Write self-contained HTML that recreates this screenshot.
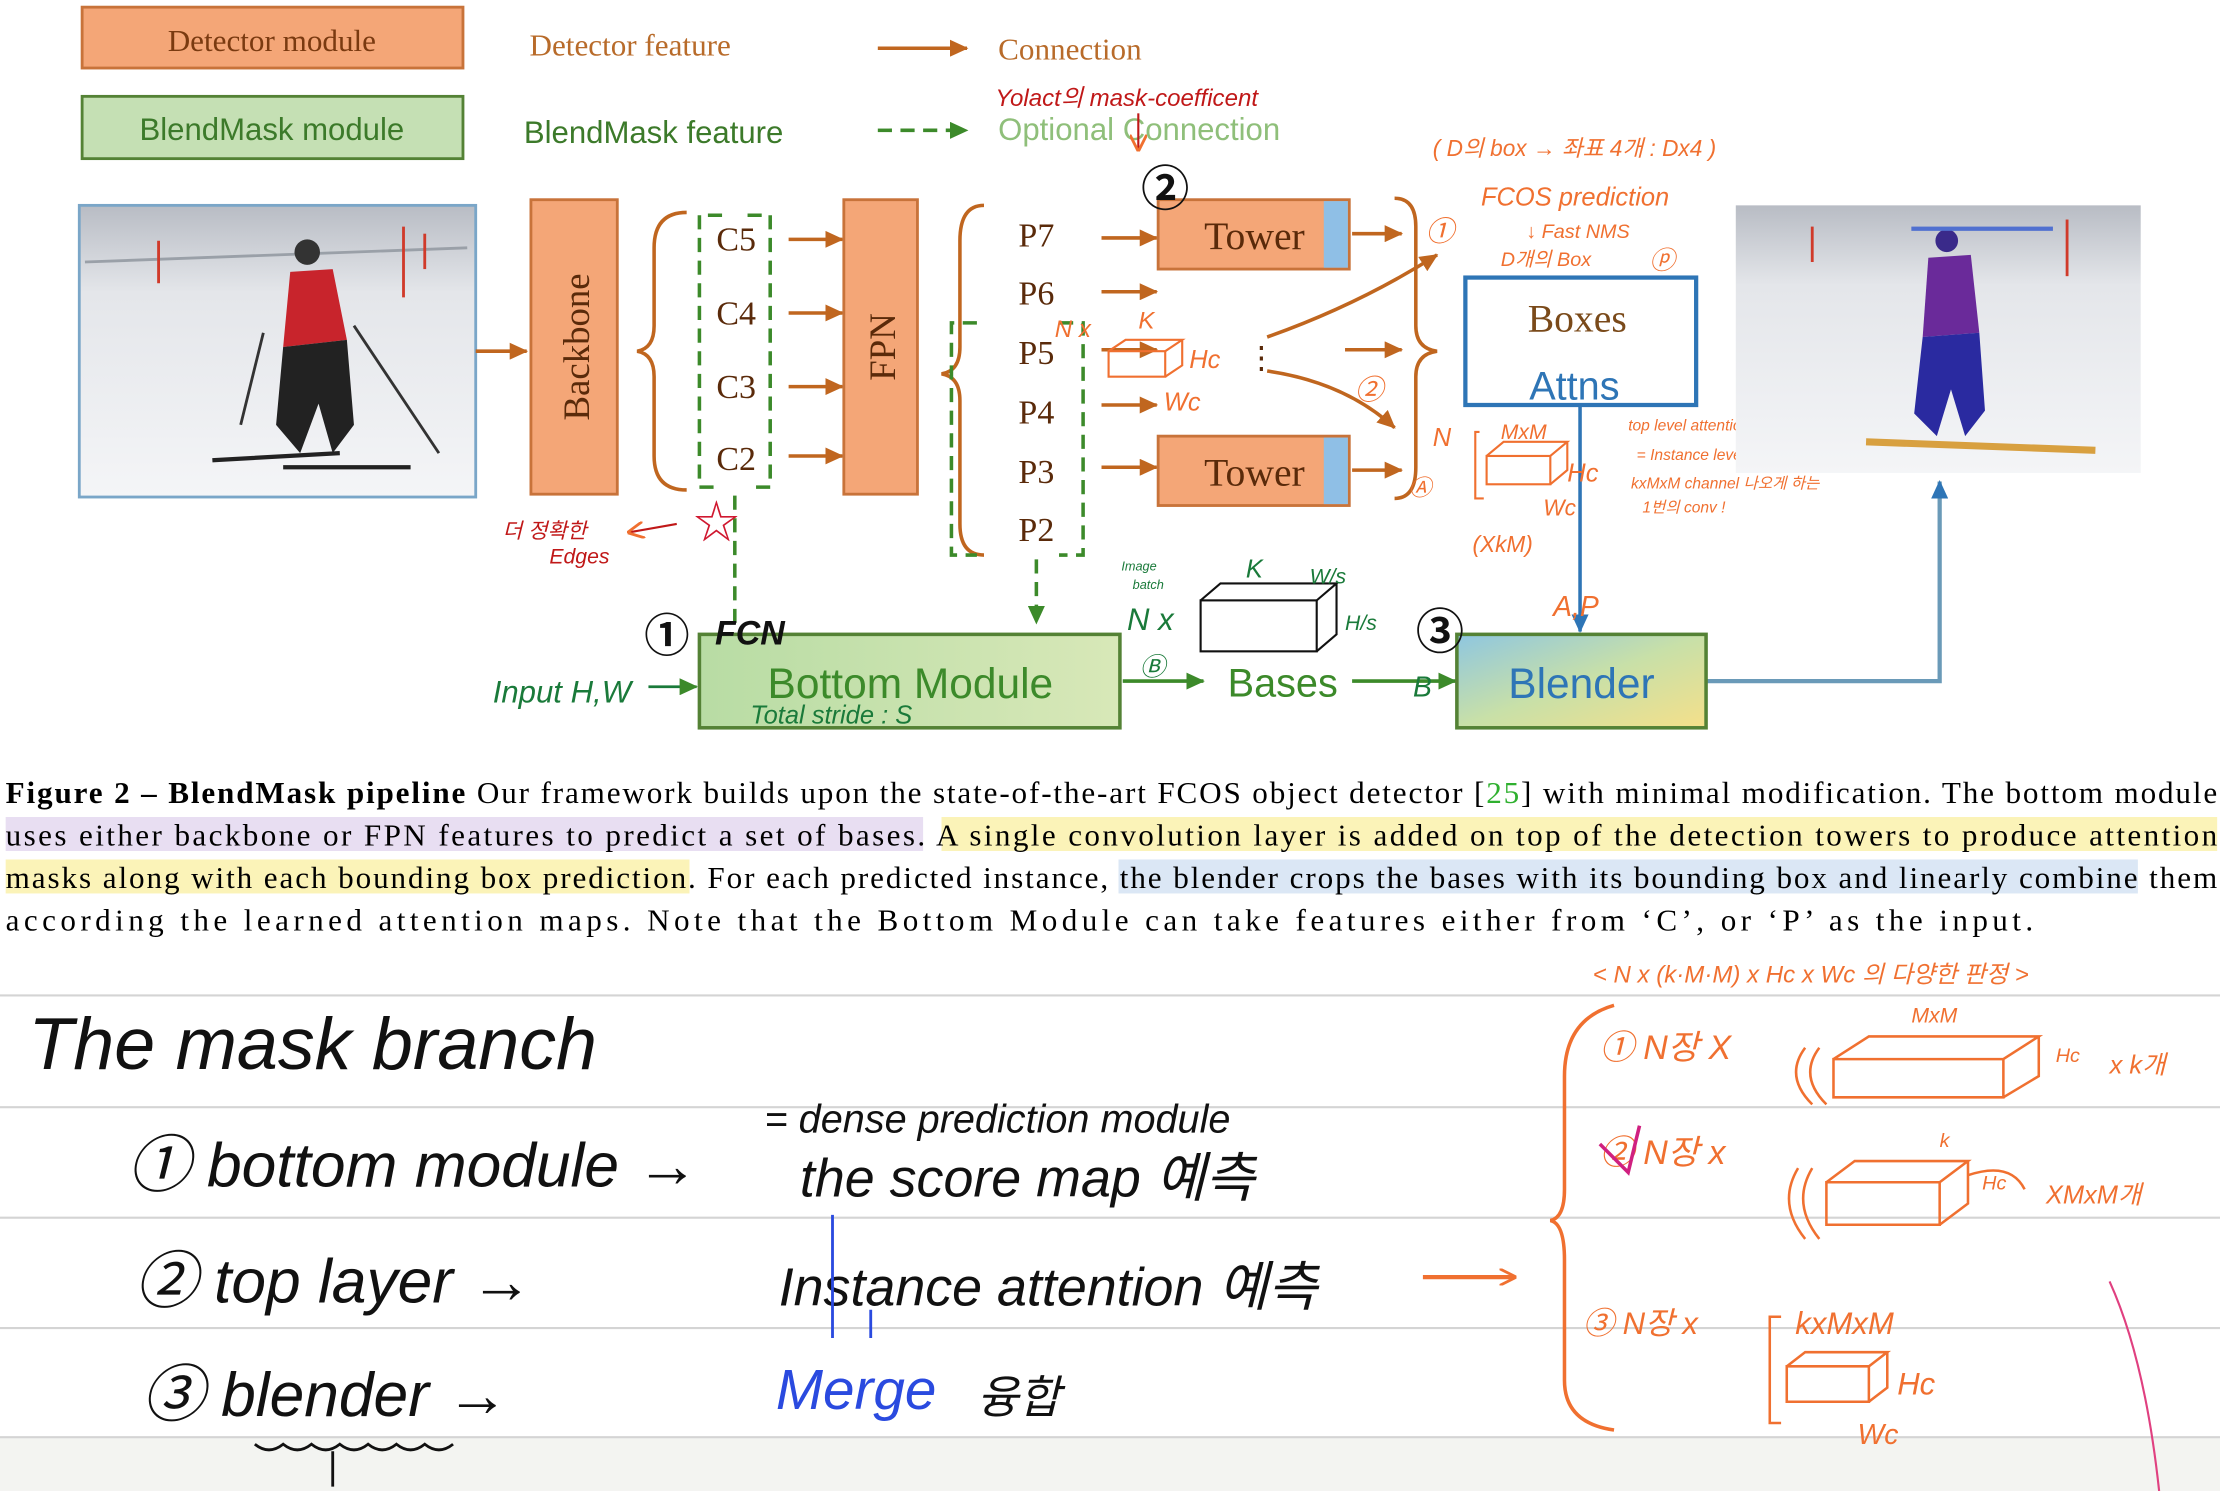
<!DOCTYPE html>
<html><head><meta charset="utf-8"><style>
html,body{margin:0;padding:0;background:#fff;}
svg{display:block;}
.s{font-family:"Liberation Serif",serif;}
.a{font-family:"Liberation Sans","Noto Sans CJK KR",sans-serif;}
.h{font-family:"Liberation Sans","Noto Sans CJK KR",sans-serif;font-style:italic;}
</style></head><body>
<svg width="2220" height="1491" viewBox="0 0 1568 1053" xmlns="http://www.w3.org/2000/svg">
<defs>
<marker id="ao" markerUnits="userSpaceOnUse" markerWidth="13" markerHeight="12" refX="12" refY="6" orient="auto"><path d="M0,0 L13,6 L0,12z" fill="#c0661f"/></marker>
<marker id="ag" markerUnits="userSpaceOnUse" markerWidth="13" markerHeight="12" refX="12" refY="6" orient="auto"><path d="M0,0 L13,6 L0,12z" fill="#3c8a2a"/></marker>
<marker id="ab" markerUnits="userSpaceOnUse" markerWidth="13" markerHeight="12" refX="12" refY="6" orient="auto"><path d="M0,0 L13,6 L0,12z" fill="#2e75b6"/></marker>
<marker id="ar" markerUnits="userSpaceOnUse" markerWidth="12" markerHeight="12" refX="11" refY="6" orient="auto"><path d="M0,0 L12,6 L0,12" fill="none" stroke="#f07030" stroke-width="2"/></marker>
<linearGradient id="gb" x1="0" x2="1"><stop offset="0" stop-color="#b8dca4"/><stop offset="1" stop-color="#d8e8b8"/></linearGradient>
<linearGradient id="gbl" x1="0" x2="1" y1="0" y2="1"><stop offset="0" stop-color="#8ec6e0"/><stop offset="0.5" stop-color="#c8e0a8"/><stop offset="1" stop-color="#f5e08a"/></linearGradient>
<linearGradient id="snow" x1="0" y1="0" x2="0" y2="1"><stop offset="0" stop-color="#b8bcc4"/><stop offset="0.3" stop-color="#e4e6ea"/><stop offset="1" stop-color="#f4f5f7"/></linearGradient>
</defs>

<rect x="58" y="5" width="269" height="43" fill="#f4a677" stroke="#c8733a" stroke-width="2"/>
<text x="192" y="36" class="s" font-size="22" fill="#7a3a10" text-anchor="middle">Detector module</text>
<rect x="58" y="68" width="269" height="44" fill="#c5e0b4" stroke="#548235" stroke-width="2"/>
<text x="192" y="99" class="a" font-size="22" fill="#3c7a2a" text-anchor="middle">BlendMask module</text>
<text x="374" y="39" class="s" font-size="22" fill="#b86b2a">Detector feature</text>
<text x="370" y="101" class="a" font-size="22" fill="#3c7a2a">BlendMask feature</text>
<line x1="620" y1="34" x2="683" y2="34" stroke="#c0661f" stroke-width="2.5" marker-end="url(#ao)"/>
<text x="705" y="42" class="s" font-size="22" fill="#b86b2a">Connection</text>
<line x1="620" y1="92" x2="683" y2="92" stroke="#3c8a2a" stroke-width="2.5" stroke-dasharray="10,6" marker-end="url(#ag)"/>
<text x="705" y="99" class="a" font-size="22" fill="#8fbf7a">Optional Connection</text>
<text x="703" y="75" class="h" font-size="17" fill="#c01818">Yolact의 mask-coefficent</text>
<line x1="804" y1="80" x2="804" y2="106" stroke="#c01818" stroke-width="1.5" marker-end="url(#ar)"/>
<text x="1012" y="110" class="h" font-size="16" fill="#f07030">( D의 box → 좌표 4개 : Dx4 )</text>

<rect x="56" y="145" width="280" height="206" fill="url(#snow)" stroke="#7aa6c8" stroke-width="2"/>
<path d="M60,185 L330,175" stroke="#9aa0a8" stroke-width="2"/>
<g stroke="#d03a2a" stroke-width="2"><line x1="112" y1="170" x2="112" y2="200"/><line x1="285" y1="160" x2="285" y2="210"/><line x1="300" y1="165" x2="300" y2="190"/></g>
<circle cx="217" cy="178" r="9" fill="#333"/>
<path d="M205,192 L235,190 L245,240 L200,245z" fill="#c8242c"/>
<path d="M200,245 L245,240 L250,300 L235,320 L225,285 L212,320 L195,300z" fill="#222"/>
<path d="M150,325 L240,320 M200,330 L290,330" stroke="#222" stroke-width="3"/>
<path d="M186,235 L170,300 M250,230 L310,320" stroke="#333" stroke-width="2"/>
<line x1="336" y1="248" x2="372" y2="248" stroke="#c0661f" stroke-width="2.5" marker-end="url(#ao)"/>

<rect x="375" y="141" width="61" height="208" fill="#f4a677" stroke="#c8733a" stroke-width="2"/>
<text transform="translate(416,245) rotate(-90)" class="s" font-size="26" fill="#5a2a0a" text-anchor="middle">Backbone</text>
<path d="M485,150 Q462,150 462,175 L462,230 Q462,246 450,248 Q462,250 462,266 L462,322 Q462,346 485,346" fill="none" stroke="#c0661f" stroke-width="2.5"/>
<path d="M510,152 L494,152 L494,344 L510,344 M528,152 L544,152 L544,344 L528,344" fill="none" stroke="#3c8a2a" stroke-width="2.5" stroke-dasharray="10,6"/>
<g class="s" font-size="24" fill="#5a2a0a" text-anchor="middle"><text x="520" y="177">C5</text><text x="520" y="229">C4</text><text x="520" y="281">C3</text><text x="520" y="332">C2</text></g>
<g stroke="#c0661f" stroke-width="2.5"><line x1="557" y1="169" x2="595" y2="169" marker-end="url(#ao)"/><line x1="557" y1="221" x2="595" y2="221" marker-end="url(#ao)"/><line x1="557" y1="273" x2="595" y2="273" marker-end="url(#ao)"/><line x1="557" y1="322" x2="595" y2="322" marker-end="url(#ao)"/></g>
<line x1="519" y1="350" x2="519" y2="445" stroke="#3c8a2a" stroke-width="2.5" stroke-dasharray="10,6"/>
<text x="490" y="380" class="a" font-size="32" fill="#d01830">☆</text>
<line x1="478" y1="370" x2="444" y2="376" stroke="#c01818" stroke-width="1.5" marker-end="url(#ar)"/>
<text x="355" y="380" class="h" font-size="15" fill="#c01818">더 정확한</text>
<text x="388" y="398" class="h" font-size="15" fill="#c01818">Edges</text>

<rect x="596" y="141" width="52" height="208" fill="#f4a677" stroke="#c8733a" stroke-width="2"/>
<text transform="translate(632,245) rotate(-90)" class="s" font-size="26" fill="#5a2a0a" text-anchor="middle">FPN</text>
<path d="M695,145 Q678,145 678,170 L678,245 Q678,262 665,264 Q678,266 678,283 L678,370 Q678,392 695,392" fill="none" stroke="#c0661f" stroke-width="2.5"/>
<path d="M690,228 L672,228 L672,392 L690,392 M748,228 L765,228 L765,392 L748,392" fill="none" stroke="#3c8a2a" stroke-width="2.5" stroke-dasharray="10,6"/>
<g class="s" font-size="24" fill="#5a2a0a" text-anchor="middle"><text x="732" y="174">P7</text><text x="732" y="215">P6</text><text x="732" y="257">P5</text><text x="732" y="299">P4</text><text x="732" y="341">P3</text><text x="732" y="382">P2</text></g>
<g stroke="#c0661f" stroke-width="2.5"><line x1="778" y1="168" x2="817" y2="168" marker-end="url(#ao)"/><line x1="778" y1="206" x2="817" y2="206" marker-end="url(#ao)"/><line x1="778" y1="247" x2="817" y2="247" marker-end="url(#ao)"/><line x1="778" y1="286" x2="817" y2="286" marker-end="url(#ao)"/><line x1="778" y1="330" x2="817" y2="330" marker-end="url(#ao)"/></g>
<line x1="732" y1="395" x2="732" y2="440" stroke="#3c8a2a" stroke-width="2.5" stroke-dasharray="10,6" marker-end="url(#ag)"/>
<g fill="none" stroke="#f07030" stroke-width="1.5"><rect x="783" y="248" width="40" height="18"/><path d="M783,248 L795,240 L835,240 L823,248 M835,240 L835,258 L823,266"/></g>
<text x="745" y="238" class="h" font-size="17" fill="#f07030">N x</text>
<text x="804" y="232" class="h" font-size="17" fill="#f07030">K</text>
<text x="840" y="260" class="h" font-size="18" fill="#f07030">Hc</text>
<text x="822" y="290" class="h" font-size="18" fill="#f07030">Wc</text>

<rect x="818" y="141" width="135" height="49" fill="#f4a677" stroke="#c8733a" stroke-width="2"/>
<rect x="935" y="142" width="17" height="47" fill="#8fbfe6"/>
<text x="886" y="176" class="s" font-size="28" fill="#5a2a0a" text-anchor="middle">Tower</text>
<rect x="818" y="308" width="135" height="49" fill="#f4a677" stroke="#c8733a" stroke-width="2"/>
<rect x="935" y="309" width="17" height="47" fill="#8fbfe6"/>
<text x="886" y="343" class="s" font-size="28" fill="#5a2a0a" text-anchor="middle">Tower</text>
<text x="806" y="145" class="a" font-size="34" font-weight="bold" fill="#111">②</text>
<line x1="955" y1="165" x2="990" y2="165" stroke="#c0661f" stroke-width="2.5" marker-end="url(#ao)"/>
<line x1="955" y1="332" x2="990" y2="332" stroke="#c0661f" stroke-width="2.5" marker-end="url(#ao)"/>
<line x1="950" y1="247" x2="990" y2="247" stroke="#c0661f" stroke-width="2.5" marker-end="url(#ao)"/>
<path d="M985,140 Q1000,140 1000,160 L1000,230 Q1000,246 1015,248 Q1000,250 1000,266 L1000,330 Q1000,352 985,352" fill="none" stroke="#c0661f" stroke-width="2.5"/>
<path d="M895,238 Q960,215 1015,180" fill="none" stroke="#c0661f" stroke-width="2.5" marker-end="url(#ao)"/>
<path d="M895,262 Q950,270 985,302" fill="none" stroke="#c0661f" stroke-width="2.5" marker-end="url(#ao)"/>
<text x="880" y="260" class="a" font-size="22" fill="#5a2a0a">⋮</text>
<text x="1007" y="170" class="h" font-size="20" fill="#f07030">①</text>
<text x="1046" y="145" class="h" font-size="18" fill="#f07030">FCOS prediction</text>
<text x="1078" y="168" class="h" font-size="14" fill="#f07030">↓ Fast NMS</text>
<text x="1060" y="188" class="h" font-size="14" fill="#f07030">D개의 Box</text>
<text x="1165" y="190" class="h" font-size="18" fill="#f07030">ⓟ</text>
<text x="957" y="282" class="h" font-size="20" fill="#f07030">②</text>

<rect x="1035" y="196" width="163" height="90" fill="#fff" stroke="#2e75b6" stroke-width="3"/>
<text x="1114" y="234" class="s" font-size="28" fill="#7a4a1a" text-anchor="middle">Boxes</text>
<text x="1112" y="282" class="a" font-size="28" fill="#2e75b6" text-anchor="middle">Attns</text>
<line x1="1116" y1="286" x2="1116" y2="446" stroke="#2e75b6" stroke-width="2.5" marker-end="url(#ab)"/>
<text x="1097" y="435" class="h" font-size="20" fill="#f07030">A,P</text>
<text x="1012" y="315" class="h" font-size="18" fill="#f07030">N</text>
<text x="1060" y="310" class="h" font-size="15" fill="#f07030">MxM</text>
<g fill="none" stroke="#f07030" stroke-width="1.5"><rect x="1050" y="322" width="45" height="20"/><path d="M1050,322 L1062,312 L1107,312 L1095,322 M1107,312 L1107,332 L1095,342 M1045,305 L1042,305 L1042,352 L1048,352"/></g>
<text x="1107" y="340" class="h" font-size="18" fill="#f07030">Hc</text>
<text x="1090" y="364" class="h" font-size="16" fill="#f07030">Wc</text>
<text x="1040" y="390" class="h" font-size="16" fill="#f07030">(XkM)</text>
<text x="995" y="350" class="h" font-size="16" fill="#f07030">Ⓐ</text>
<text x="1150" y="304" class="h" font-size="11" fill="#f07030">top level attention map</text>
<text x="1156" y="325" class="h" font-size="11" fill="#f07030">= Instance level information</text>
<text x="1152" y="345" class="h" font-size="11" fill="#f07030">kxMxM channel 나오게 하는</text>
<text x="1160" y="362" class="h" font-size="11" fill="#f07030">1번의   conv !</text>

<rect x="1226" y="145" width="286" height="189" fill="url(#snow)"/>
<circle cx="1375" cy="170" r="8" fill="#3a2a8a"/>
<path d="M1362,182 L1392,180 L1398,235 L1358,238z" fill="#6a2a9a"/>
<path d="M1358,238 L1398,235 L1402,290 L1388,308 L1378,275 L1368,308 L1352,292z" fill="#2a2aa0"/>
<path d="M1318,312 L1480,318" stroke="#d8a040" stroke-width="5"/>
<rect x="1350" y="160" width="100" height="3" fill="#5070d0"/>
<g stroke="#d03a2a" stroke-width="2"><line x1="1280" y1="160" x2="1280" y2="185"/><line x1="1460" y1="155" x2="1460" y2="195"/></g>
<path d="M1205,481 L1370,481 L1370,340" fill="none" stroke="#6a9ab8" stroke-width="3" marker-end="url(#ab)"/>

<rect x="494" y="448" width="297" height="66" fill="url(#gb)" stroke="#548235" stroke-width="2.5"/>
<text x="643" y="493" class="a" font-size="30" fill="#3c8a2a" text-anchor="middle">Bottom Module</text>
<text x="530" y="511" class="h" font-size="18" fill="#1a7a3a">Total stride : S</text>
<text x="455" y="460" class="a" font-size="32" font-weight="bold" fill="#111">①</text>
<text x="505" y="455" class="h" font-size="24" font-weight="bold" fill="#111">FCN</text>
<text x="348" y="496" class="h" font-size="22" fill="#1a7a3a">Input H,W</text>
<line x1="458" y1="485" x2="492" y2="485" stroke="#1a7a3a" stroke-width="2" marker-end="url(#ag)"/>
<line x1="793" y1="481" x2="850" y2="481" stroke="#3c8a2a" stroke-width="2.5" marker-end="url(#ag)"/>
<text x="805" y="477" class="h" font-size="18" fill="#1a7a3a">Ⓑ</text>
<text x="906" y="492" class="a" font-size="28" fill="#3c8a2a" text-anchor="middle">Bases</text>
<g fill="none" stroke="#111" stroke-width="1.5"><rect x="848" y="424" width="82" height="36"/><path d="M848,424 L862,412 L944,412 L930,424 M944,412 L944,448 L930,460"/></g>
<text x="796" y="445" class="h" font-size="22" fill="#1a7a3a">N x</text>
<text x="792" y="403" class="h" font-size="9" fill="#1a7a3a">Image</text>
<text x="800" y="416" class="h" font-size="9" fill="#1a7a3a">batch</text>
<text x="880" y="408" class="h" font-size="18" fill="#1a7a3a">K</text>
<text x="925" y="412" class="h" font-size="15" fill="#1a7a3a">W/s</text>
<text x="950" y="445" class="h" font-size="15" fill="#1a7a3a">H/s</text>
<line x1="955" y1="481" x2="1028" y2="481" stroke="#3c8a2a" stroke-width="2.5" marker-end="url(#ag)"/>
<text x="998" y="492" class="h" font-size="20" fill="#1a7a3a">B</text>
<rect x="1029" y="448" width="176" height="66" fill="url(#gbl)" stroke="#548235" stroke-width="2.5"/>
<text x="1117" y="493" class="a" font-size="30" fill="#2e75b6" text-anchor="middle">Blender</text>
<text x="1000" y="458" class="a" font-size="34" font-weight="bold" fill="#111">③</text>

<rect x="4" y="577" width="648" height="24" fill="#e8def2"/>
<rect x="665" y="577" width="901" height="24" fill="#fbf3b8"/>
<rect x="4" y="607" width="483" height="24" fill="#fbf3b8"/>
<rect x="790" y="607" width="720" height="24" fill="#dbe7f5"/>
<g class="s" font-size="22" fill="#000">
<text x="4" y="567" textLength="1562" lengthAdjust="spacing"><tspan font-weight="bold">Figure 2 – BlendMask pipeline</tspan> Our framework builds upon the state-of-the-art FCOS object detector [<tspan fill="#2fb02f">25</tspan>] with minimal modification. The bottom module</text>
<text x="4" y="597" textLength="1562" lengthAdjust="spacing">uses either backbone or FPN features to predict a set of bases.  A single convolution layer is added on top of the detection towers to produce attention</text>
<text x="4" y="627" textLength="1562" lengthAdjust="spacing">masks along with each bounding box prediction. For each predicted instance, the blender crops the bases with its bounding box and linearly combine them</text>
<text x="4" y="657" textLength="1432" lengthAdjust="spacing">according the learned attention maps. Note that the Bottom Module can take features either from ‘C’, or ‘P’ as the input.</text>
</g>

<rect x="0" y="1015" width="1568" height="38" fill="#f3f4f1"/>
<g stroke="#d4d4d4" stroke-width="1.5"><line x1="0" y1="703" x2="1568" y2="703"/><line x1="0" y1="782" x2="1568" y2="782"/><line x1="0" y1="860" x2="1568" y2="860"/><line x1="0" y1="938" x2="1568" y2="938"/><line x1="0" y1="1015" x2="1568" y2="1015"/></g>
<g class="h" fill="#111">
<text x="20" y="755" font-size="52">The  mask  branch</text>
<text x="90" y="838" font-size="44">①  bottom  module  →</text>
<text x="540" y="800" font-size="28">=  dense  prediction  module</text>
<text x="565" y="845" font-size="38">the  score  map  예측</text>
<text x="95" y="920" font-size="44">②  top  layer     →</text>
<text x="550" y="922" font-size="38">Instance  attention  예측</text>
<text x="100" y="1000" font-size="44">③  blender        →</text>
<text x="690" y="998" font-size="32">융합</text>
</g>
<text x="548" y="995" class="h" font-size="40" fill="#2a4adf">Merge</text>
<path d="M588,858 L588,945 M615,925 L615,945" stroke="#2a4adf" stroke-width="2"/>
<path d="M180,1020 q10,8 20,0 q10,8 20,0 q10,8 20,0 q10,8 20,0 q10,8 20,0 q10,8 20,0 q10,8 20,0 M235,1025 L235,1050" fill="none" stroke="#111" stroke-width="2"/>
<line x1="1005" y1="902" x2="1070" y2="902" stroke="#f07030" stroke-width="3" marker-end="url(#ar)"/>
<path d="M1140,710 Q1105,720 1105,760 L1105,840 Q1105,860 1095,862 Q1105,864 1105,890 L1105,975 Q1105,1005 1140,1010" fill="none" stroke="#f07030" stroke-width="2.5"/>
<path d="M1490,905 Q1515,960 1525,1053" fill="none" stroke="#e04080" stroke-width="1.5"/>
<g class="h" fill="#f07030">
<text x="1125" y="694" font-size="17">&lt; N x (k·M·M) x Hc x Wc 의 다양한 판정 &gt;</text>
<text x="1130" y="748" font-size="24">①  N장 X</text>
<text x="1350" y="722" font-size="15">MxM</text>
<text x="1452" y="750" font-size="14">Hc</text>
<text x="1490" y="758" font-size="18">x k개</text>
<text x="1130" y="822" font-size="24">②  N장 x</text>
<text x="1370" y="810" font-size="14">k</text>
<text x="1400" y="840" font-size="14">Hc</text>
<text x="1445" y="850" font-size="18">XMxM개</text>
<text x="1118" y="942" font-size="22">③  N장 x</text>
<text x="1268" y="942" font-size="22">kxMxM</text>
<text x="1340" y="985" font-size="22">Hc</text>
<text x="1312" y="1020" font-size="20">Wc</text>
</g>
<g fill="none" stroke="#f07030" stroke-width="1.8">
<path d="M1295,748 L1415,748 L1415,775 L1295,775z M1295,748 L1320,732 L1440,732 L1415,748 M1440,732 L1440,760 L1415,775 M1275,740 Q1260,760 1280,780 M1285,740 Q1270,760 1290,780"/>
<path d="M1290,835 L1370,835 L1370,865 L1290,865z M1290,835 L1310,820 L1390,820 L1370,835 M1390,820 L1390,850 L1370,865 M1270,825 Q1255,850 1275,875 M1280,825 Q1265,850 1285,875 M1390,830 Q1420,820 1430,840"/>
<path d="M1262,965 L1320,965 L1320,990 L1262,990z M1262,965 L1275,955 L1333,955 L1320,965 M1333,955 L1333,980 L1320,990 M1258,930 L1250,930 L1250,1005 L1258,1005"/>
</g>
<path d="M1130,808 L1150,828 L1158,795" fill="none" stroke="#d02080" stroke-width="2.5"/>
</svg>
</body></html>
